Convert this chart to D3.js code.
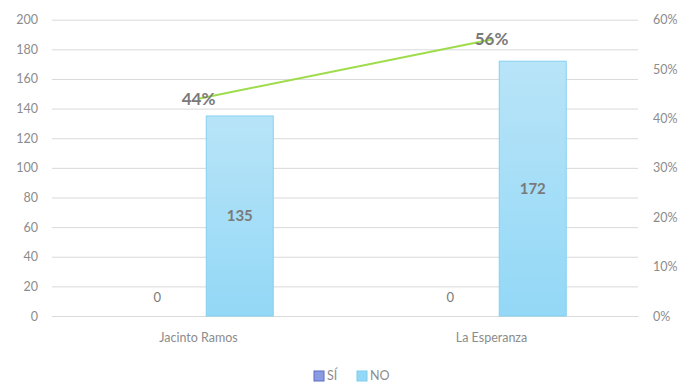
<!DOCTYPE html>
<html>
<head>
<meta charset="utf-8">
<script src="https://cdn.jsdelivr.net/npm/d3@7"></script>
<style>
  html, body { margin: 0; padding: 0; background: #fff; }
  svg { display: block; font-family: Lato, "Open Sans", sans-serif; }
</style>
</head>
<body>
<svg id="chart" width="686" height="383"></svg>
<script>
// Chart data
const categories = ["Jacinto Ramos", "La Esperanza"];
const seriesNames = ["SÍ", "NO"];
const siValues = [0, 0];
const noValues = [135, 172];
const pctValues = [0.44, 0.56];
const leftTicks = [0, 20, 40, 60, 80, 100, 120, 140, 160, 180, 200];
const rightTicks = [0, 0.1, 0.2, 0.3, 0.4, 0.5, 0.6];

const svg = d3.select("#chart");
const plot = { left: 52, right: 638, top: 19.7, bottom: 316 };

const x0 = d3.scaleBand().domain(categories).range([plot.left, plot.right]).paddingInner(0).paddingOuter(0);
const x1 = d3.scaleBand().domain(seriesNames).range([0, x0.bandwidth()]).paddingInner(0.188).paddingOuter(0.87);
const y = d3.scaleLinear().domain([0, 200]).range([plot.bottom, plot.top]);
const y2 = d3.scaleLinear().domain([0, 0.6]).range([plot.bottom, plot.top]);

const axisColor = "#8c8c8c";
const labelColor = "#7a7a7a";

// Gradient for the NO bars
const defs = svg.append("defs");
const grad = defs.append("linearGradient").attr("id", "noGrad").attr("x1", 0).attr("y1", 0).attr("x2", 0).attr("y2", 1);
grad.append("stop").attr("offset", "0%").attr("stop-color", "#b8e4f8");
grad.append("stop").attr("offset", "100%").attr("stop-color", "#93d8f6");

// Horizontal gridlines
const gridAxis = d3.axisLeft(y).tickValues(leftTicks).tickSize(-(plot.right - plot.left)).tickFormat("");
const grid = svg.append("g").attr("transform", `translate(${plot.left},0)`).call(gridAxis);
grid.select(".domain").remove();
grid.selectAll("line").attr("stroke", "#d9d9d9").attr("stroke-width", 1);

// Left axis labels
const leftAxis = svg.append("g").attr("transform", `translate(${plot.left - 14},0)`)
  .call(d3.axisLeft(y).tickValues(leftTicks).tickSize(0).tickPadding(0));
leftAxis.select(".domain").remove();
leftAxis.selectAll("text").attr("fill", axisColor).style("font-size", "12.5px").style("font-family", "Lato, sans-serif");

// Right axis labels
const rightAxis = svg.append("g").attr("transform", `translate(${plot.right + 15},0)`)
  .call(d3.axisRight(y2).tickValues(rightTicks).tickFormat(d3.format(".0%")).tickSize(0).tickPadding(0));
rightAxis.select(".domain").remove();
rightAxis.selectAll("text").attr("fill", axisColor).style("font-size", "12.5px").style("font-family", "Lato, sans-serif");

// Category axis
const bottomAxis = svg.append("g").attr("transform", `translate(0,${plot.bottom})`)
  .call(d3.axisBottom(x0).tickSize(0).tickPadding(17));
bottomAxis.select(".domain").attr("stroke", "#d9d9d9");
bottomAxis.selectAll("text").attr("fill", axisColor).style("font-size", "12.5px").style("font-family", "Lato, sans-serif");

// Bars
const rows = categories.map((c, i) => ({ cat: c, values: [
  { key: "SÍ", value: siValues[i] },
  { key: "NO", value: noValues[i] }
]}));

const groups = svg.append("g").selectAll("g").data(rows).join("g")
  .attr("transform", d => `translate(${x0(d.cat)},0)`);

groups.selectAll("rect").data(d => d.values.filter(v => v.value > 0)).join("rect")
  .attr("x", d => x1(d.key))
  .attr("y", d => y(d.value))
  .attr("width", x1.bandwidth())
  .attr("height", d => y(0) - y(d.value))
  .attr("fill", d => d.key === "NO" ? "url(#noGrad)" : "#8a9be0")
  .attr("stroke", d => d.key === "NO" ? "#86d0f0" : "#5a6fc8")
  .attr("stroke-width", 1);

// Bar value labels
groups.selectAll("text.val").data(d => d.values).join("text")
  .attr("class", "val")
  .attr("x", d => x1(d.key) + x1.bandwidth() / 2)
  .attr("y", d => d.value > 0 ? (y(d.value) + y(0)) / 2 : y(0) - 19)
  .attr("dy", "0.35em")
  .attr("text-anchor", "middle")
  .attr("fill", labelColor)
  .style("font-size", d => d.value > 0 ? "15px" : "13px")
  .style("font-weight", d => d.value > 0 ? "bold" : "normal")
  .text(d => d.value);

// Percentage line
const line = d3.line()
  .x((d, i) => x0(categories[i]) + x0.bandwidth() / 2)
  .y(d => y2(d));
svg.append("path").datum(pctValues)
  .attr("d", line)
  .attr("fill", "none")
  .attr("stroke", "#9edc4a")
  .attr("stroke-width", 2);

svg.append("g").selectAll("text").data(pctValues).join("text")
  .attr("x", (d, i) => x0(categories[i]) + x0.bandwidth() / 2)
  .attr("y", d => y2(d))
  .attr("dy", "0.35em")
  .attr("text-anchor", "middle")
  .attr("fill", labelColor)
  .style("font-size", "17px")
  .style("font-weight", "bold")
  .text(d => d3.format(".0%")(d));

// Legend
const legendItems = [
  { name: "SÍ", fill: "#8a9be0", stroke: "#5a6fc8", x: 314 },
  { name: "NO", fill: "#93d8f6", stroke: "#7fcdef", x: 357 }
];
const legend = svg.append("g").selectAll("g").data(legendItems).join("g")
  .attr("transform", d => `translate(${d.x},371)`);
legend.append("rect").attr("width", 10).attr("height", 10)
  .attr("fill", d => d.fill).attr("stroke", d => d.stroke).attr("stroke-width", 1);
legend.append("text").attr("x", 13).attr("y", 5).attr("dy", "0.35em")
  .attr("fill", axisColor).style("font-size", "12.5px").text(d => d.name);
</script>
</body>
</html>
